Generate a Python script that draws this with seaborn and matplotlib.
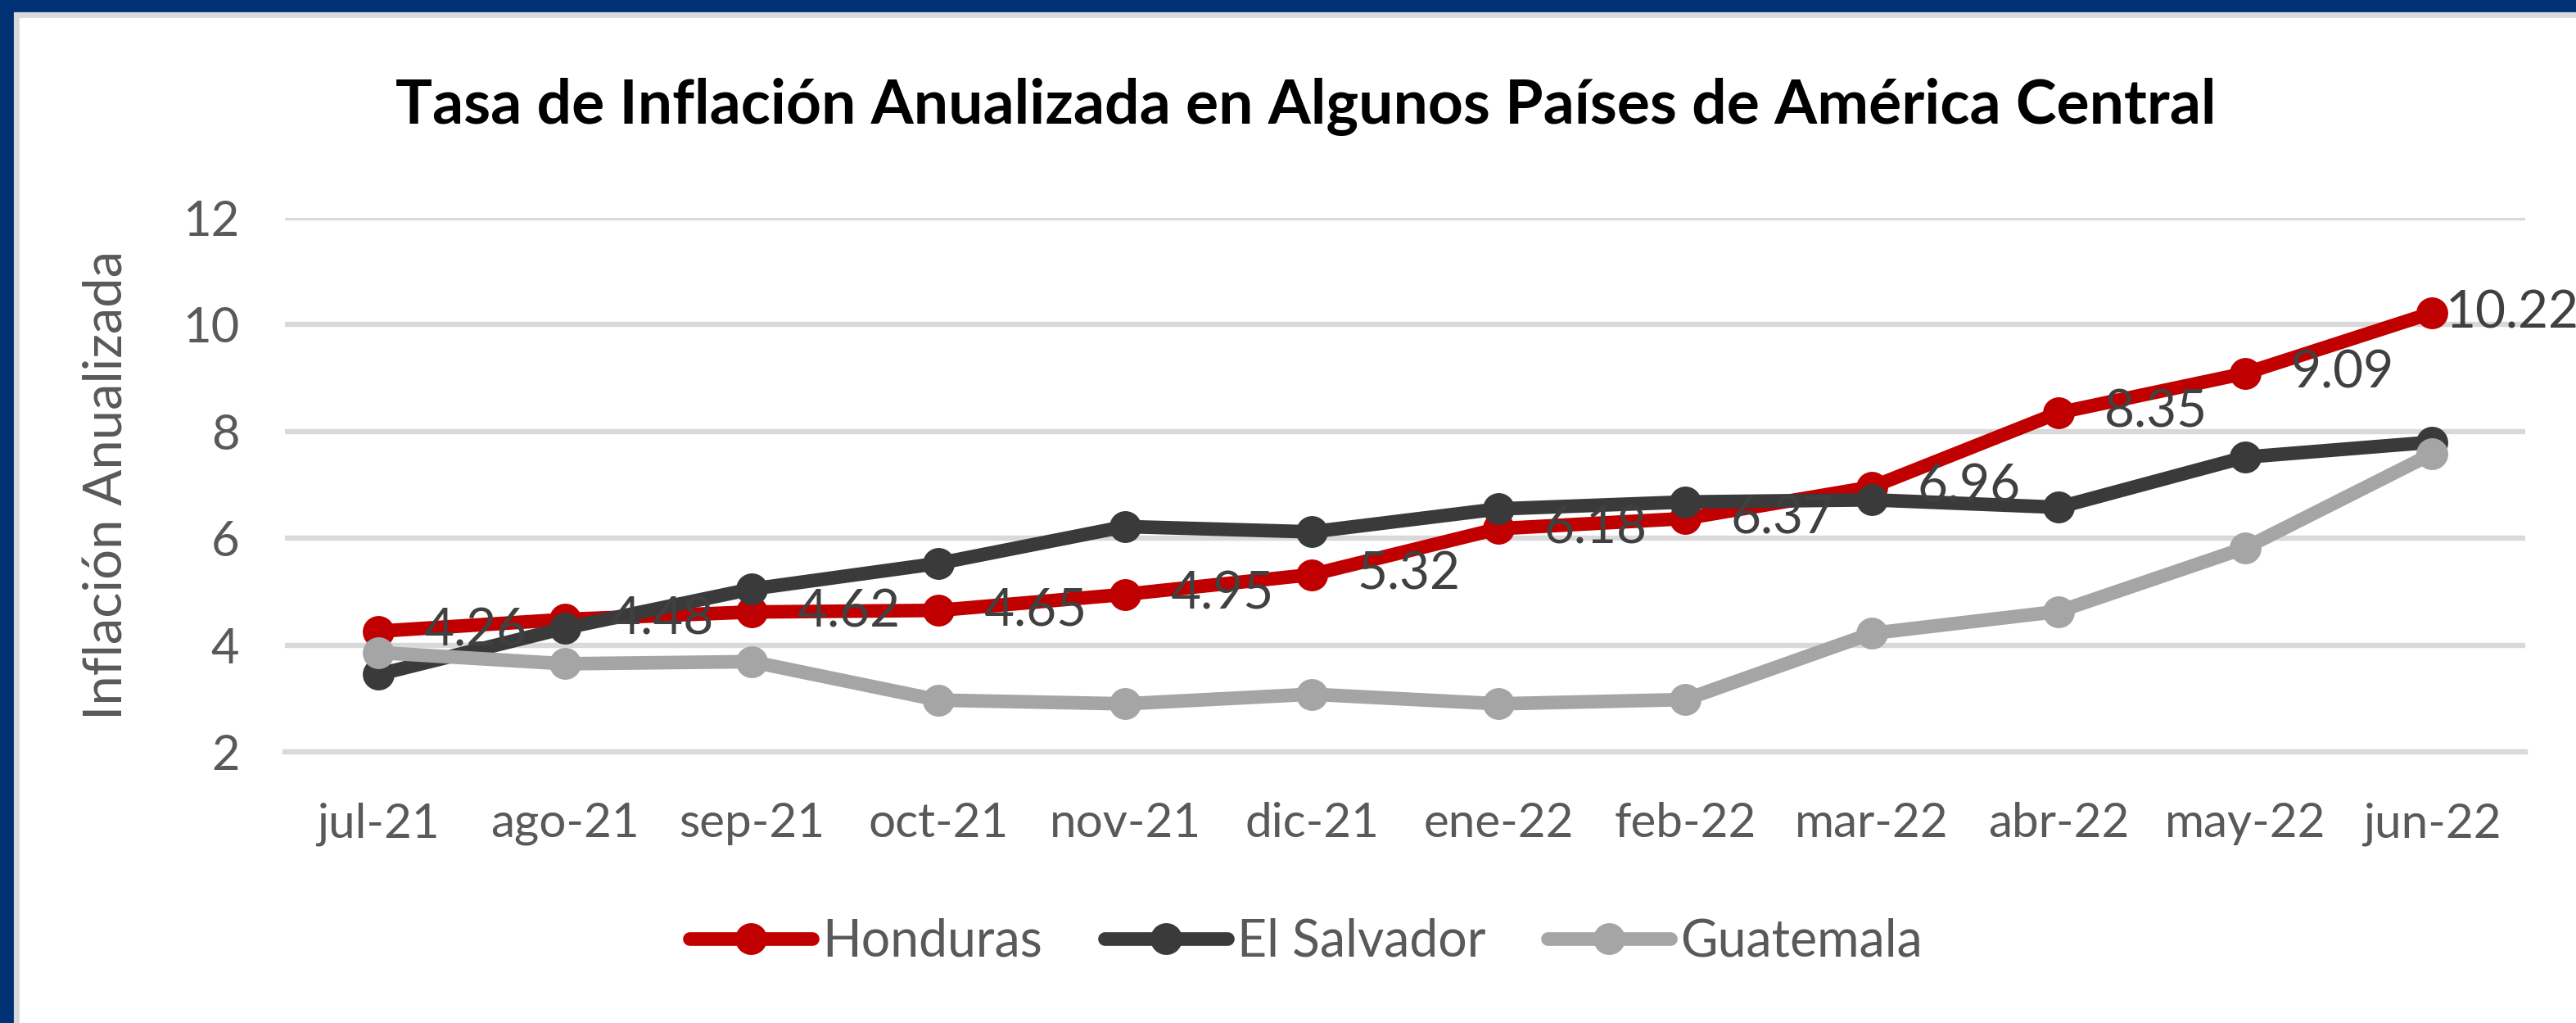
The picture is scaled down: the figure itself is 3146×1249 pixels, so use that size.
import matplotlib
matplotlib.use("Agg")
import matplotlib.pyplot as plt
from matplotlib.patches import Rectangle
import seaborn as sns
import pandas as pd

meses = ['jul-21', 'ago-21', 'sep-21', 'oct-21', 'nov-21', 'dic-21',
         'ene-22', 'feb-22', 'mar-22', 'abr-22', 'may-22', 'jun-22']
honduras = [4.26, 4.48, 4.62, 4.65, 4.95, 5.32, 6.18, 6.37, 6.96, 8.35, 9.09, 10.22]
el_salvador = [3.45, 4.32, 5.05, 5.53, 6.22, 6.12, 6.55, 6.68, 6.72, 6.58, 7.52, 7.80]
guatemala = [3.86, 3.65, 3.69, 2.97, 2.90, 3.08, 2.90, 2.98, 4.22, 4.63, 5.82, 7.58]

paises = ['Honduras', 'El Salvador', 'Guatemala']
colores = {'Honduras': '#C00000', 'El Salvador': '#3A3A3A', 'Guatemala': '#A5A5A5'}

df = pd.DataFrame({
    'pos': list(range(len(meses))) * 3,
    'valor': honduras + el_salvador + guatemala,
    'pais': ['Honduras'] * 12 + ['El Salvador'] * 12 + ['Guatemala'] * 12,
})

sns.set_style('white')
plt.rcParams['font.family'] = ['Lato', 'DejaVu Sans']

W, H, DPI = 3146, 1249, 200
fig = plt.figure(figsize=(W / DPI, H / DPI), dpi=DPI)
ax = fig.add_axes([348 / W, 1 - 918 / H, (3084 - 348) / W, (918 - 266) / H])

sns.lineplot(data=df, x='pos', y='valor', hue='pais', hue_order=paises,
             palette=colores, marker='o', markersize=14, markeredgewidth=0,
             linewidth=6, legend=False, ax=ax, zorder=3)

# etiquetas de datos solo para Honduras
for i, v in enumerate(honduras):
    dx = 6 if i == len(honduras) - 1 else 20
    ax.annotate(f'{v:.2f}', (i, v), xytext=(dx, 0), textcoords='offset points',
                ha='left', va='center', fontsize=23, color='#404040', zorder=5,
                annotation_clip=False)

ax.set_xlim(-0.5, 11.5)
ax.set_ylim(2, 12)
ax.set_yticks(range(2, 13, 2))
ax.set_xticks(range(len(meses)))
ax.set_xticklabels(meses)
ax.set_xticks([i - 0.5 for i in range(len(meses) + 1)], minor=True)
ax.tick_params(axis='x', which='major', length=0, pad=22, labelsize=21, labelcolor='#595959')
ax.tick_params(axis='x', which='minor', length=7, width=1.2, color='#D9D9D9')
ax.tick_params(axis='y', length=0, pad=20, labelsize=21.5, labelcolor='#595959')
ax.grid(axis='y', color='#D9D9D9', linewidth=2.3, zorder=0)
ax.set_axisbelow(True)
for s in ['top', 'right', 'left']:
    ax.spines[s].set_visible(False)
ax.spines['bottom'].set_color('#D9D9D9')
ax.spines['bottom'].set_linewidth(2.3)
ax.set_xlabel('')
ax.set_ylabel('Inflación Anualizada', fontsize=23.5, color='#595959')
ax.yaxis.set_label_coords(-0.0687, 0.5)

fig.text(0.507, 1 - 130 / H, 'Tasa de Inflación Anualizada en Algunos Países de América Central',
         ha='center', va='center', fontsize=27, fontweight='bold', color='black')

handles = ax.get_lines()[:3]
fig.legend(handles, paises, loc='center', bbox_to_anchor=(0.507, 1 - 1150 / H),
           ncol=3, frameon=False, fontsize=22.5, handlelength=2.4, handletextpad=0.2,
           columnspacing=1.2, labelcolor='#595959')

# marco del gráfico
azul, gris = '#003174', '#D9D9D9'
fig.add_artist(Rectangle((0, 1 - 20 / H), 1, 20 / H, transform=fig.transFigure, color=gris, zorder=0))
fig.add_artist(Rectangle((0, 0), 22 / W, 1, transform=fig.transFigure, color=gris, zorder=0))
fig.add_artist(Rectangle((0, 1 - 13 / H), 1, 13 / H, transform=fig.transFigure, color=azul, zorder=1))
fig.add_artist(Rectangle((0, 0), 15 / W, 1, transform=fig.transFigure, color=azul, zorder=1))

fig.savefig('out.png', dpi=DPI)
